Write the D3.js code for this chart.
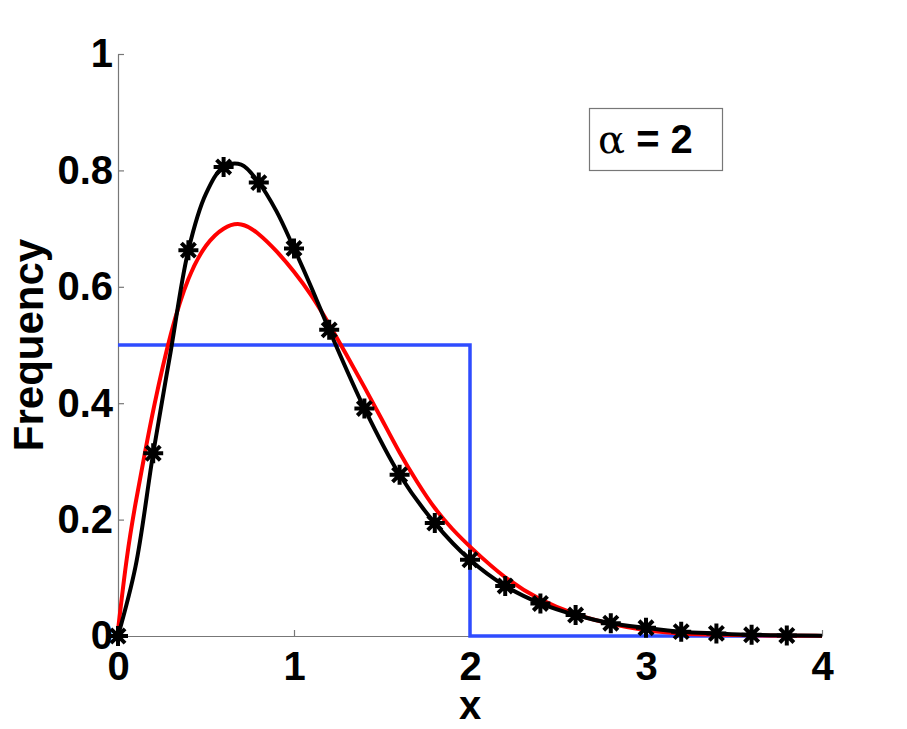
<!DOCTYPE html>
<html>
<head>
<meta charset="utf-8">
<script src="https://cdn.jsdelivr.net/npm/d3@7"></script>
<style>
  body { margin: 0; background: #fff; }
  text { font-family: "Liberation Sans", Arial, sans-serif; font-weight: bold; }
</style>
</head>
<body>
<div id="chart"></div>
<script>
(function(d3) {
  'use strict';

  // data
  var blueX = [0, 2, 2, 4];
  var blueY = [0.5, 0.5, 0, 0];

  var redX = [0, 0.05, 0.1, 0.15, 0.2, 0.3, 0.4, 0.5, 0.6, 0.7, 0.8, 0.9, 1.0, 1.1, 1.2, 1.3, 1.4,
              1.5, 1.6, 1.7, 1.8, 1.9, 2.0, 2.2, 2.4, 2.6, 2.8, 3.0, 3.2, 3.4, 3.6, 3.8, 4.0];
  var redY = [0.01, 0.14, 0.23, 0.31, 0.39, 0.525, 0.62, 0.675, 0.703, 0.712, 0.692, 0.662, 0.627,
              0.586, 0.536, 0.482, 0.428, 0.372, 0.314, 0.264, 0.218, 0.183, 0.153, 0.098, 0.061,
              0.036, 0.02, 0.009, 0.004, 0.002, 0.001, 0.0005, 0.0002];

  var blackX = [0, 0.1, 0.2, 0.3, 0.4, 0.5, 0.6, 0.7, 0.8, 0.9, 1.0, 1.1, 1.2, 1.4, 1.6, 1.8, 2.0,
                2.2, 2.4, 2.6, 2.8, 3.0, 3.2, 3.4, 3.6, 3.8, 4.0];
  var blackY = [0, 0.12, 0.314, 0.49, 0.663, 0.76, 0.806, 0.81, 0.779, 0.73, 0.666, 0.598, 0.526,
                0.391, 0.277, 0.194, 0.131, 0.086, 0.056, 0.036, 0.022, 0.014, 0.0075, 0.0045,
                0.002, 0.001, 0.0005];

  var starX = [0, 0.2, 0.4, 0.6, 0.8, 1.0, 1.2, 1.4, 1.6, 1.8, 2.0, 2.2, 2.4, 2.6, 2.8, 3.0,
               3.2, 3.4, 3.6, 3.8];
  var starY = [0, 0.314, 0.663, 0.806, 0.779, 0.666, 0.526, 0.391, 0.277, 0.194, 0.131, 0.086,
               0.056, 0.036, 0.022, 0.014, 0.0075, 0.0045, 0.002, 0.001];

  var xTicks = [0, 1, 2, 3, 4];
  var yTicks = [0, 0.2, 0.4, 0.6, 0.8, 1];

  var width = 907;
  var height = 729;
  var axisColor = '#777';
  var tickFont = 40;

  var svg = d3.select('#chart')
    .append('svg')
    .attr('width', width)
    .attr('height', height);

  var x = d3.scaleLinear().domain([0, 4]).range([118, 822]);
  var y = d3.scaleLinear().domain([0, 1]).range([636, 54]);

  // axes, ticks pointing inward
  var xAxis = svg.append('g')
    .attr('transform', 'translate(0,' + y(0) + ')')
    .call(d3.axisBottom(x).tickValues(xTicks).tickFormat(d3.format('d'))
      .tickSize(-6).tickSizeOuter(0).tickPadding(16));

  var yAxis = svg.append('g')
    .attr('transform', 'translate(' + x(0) + ',0)')
    .call(d3.axisLeft(y).tickValues(yTicks).tickFormat(function(d) { return String(d); })
      .tickSize(-6).tickSizeOuter(0).tickPadding(5));

  [xAxis, yAxis].forEach(function(ax) {
    ax.select('.domain').attr('stroke', axisColor).attr('stroke-width', 1.2);
    ax.selectAll('.tick line').attr('stroke', axisColor).attr('stroke-width', 1.2);
    ax.selectAll('.tick text')
      .attr('fill', '#000')
      .style('font-size', tickFont + 'px')
      .style('font-family', '"Liberation Sans", Arial, sans-serif')
      .style('font-weight', 'bold');
  });

  function pts(xs, ys) {
    return xs.map(function(v, i) { return [v, ys[i]]; });
  }

  var line = d3.line()
    .x(function(d) { return x(d[0]); })
    .y(function(d) { return y(d[1]); });

  svg.append('path')
    .datum(pts(blueX, blueY))
    .attr('d', line)
    .attr('fill', 'none')
    .attr('stroke', '#2f4cff')
    .attr('stroke-width', 3.5);

  svg.append('path')
    .datum(pts(redX, redY))
    .attr('d', line.curve(d3.curveBasis))
    .attr('fill', 'none')
    .attr('stroke', '#ff0000')
    .attr('stroke-width', 4);

  svg.append('path')
    .datum(pts(blackX, blackY))
    .attr('d', line.curve(d3.curveCatmullRom))
    .attr('fill', 'none')
    .attr('stroke', '#000')
    .attr('stroke-width', 4);

  // asterisk markers
  var r = 10;
  var dd = r * 0.707;
  var star = 'M' + (-r) + ',0L' + r + ',0M0,' + (-r) + 'L0,' + r +
    'M' + (-dd) + ',' + (-dd) + 'L' + dd + ',' + dd +
    'M' + (-dd) + ',' + dd + 'L' + dd + ',' + (-dd);

  svg.selectAll('.star')
    .data(pts(starX, starY))
    .enter()
    .append('path')
    .attr('class', 'star')
    .attr('transform', function(d) { return 'translate(' + x(d[0]) + ',' + y(d[1]) + ')'; })
    .attr('d', star)
    .attr('fill', 'none')
    .attr('stroke', '#000')
    .attr('stroke-width', 4);

  // axis labels
  svg.append('text')
    .attr('x', 470)
    .attr('y', 719)
    .attr('text-anchor', 'middle')
    .style('font-size', '40px')
    .text('x');

  svg.append('text')
    .attr('transform', 'translate(43,345) rotate(-90)')
    .attr('text-anchor', 'middle')
    .style('font-size', '42px')
    .text('Frequency');

  // legend box
  svg.append('rect')
    .attr('x', 589.5)
    .attr('y', 108.5)
    .attr('width', 133)
    .attr('height', 62)
    .attr('fill', '#fff')
    .attr('stroke', axisColor)
    .attr('stroke-width', 1.2);

  var leg = svg.append('text')
    .attr('x', 598)
    .attr('y', 153)
    .style('font-size', '40px');
  leg.append('tspan')
    .style('font-family', '"DejaVu Serif", "Liberation Serif", serif')
    .style('font-weight', 'normal')
    .style('font-size', '40px')
    .text('\u03b1');
  leg.append('tspan')
    .text(' = 2');

})(window.d3);
</script>
</body>
</html>
